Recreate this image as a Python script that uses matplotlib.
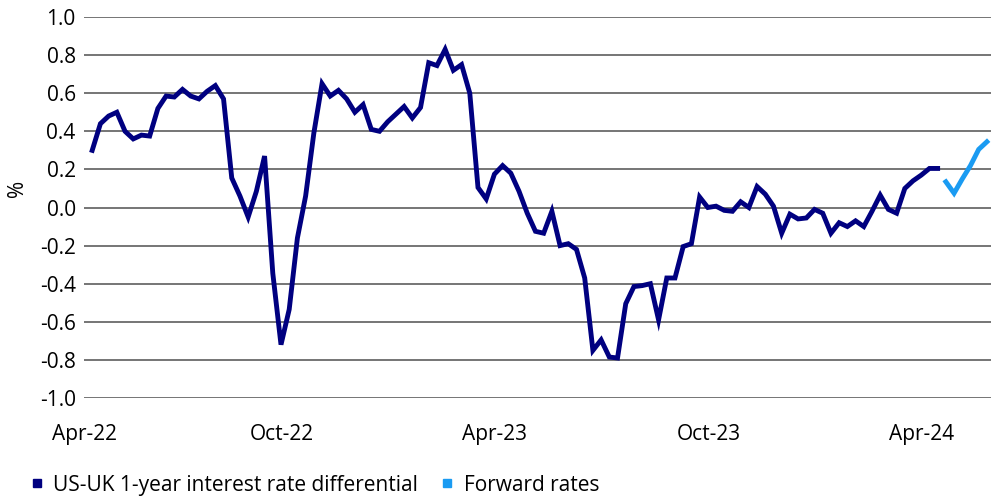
import matplotlib
matplotlib.use("Agg")
import matplotlib.pyplot as plt
from matplotlib.lines import Line2D
import numpy as np

plt.rcParams['font.family'] = ['Open Sans', 'DejaVu Sans']

# Weekly US-UK 1-year interest rate differential (%), Apr-22 .. Apr-24
differential = [
    0.30, 0.44, 0.48, 0.50, 0.40, 0.36, 0.38, 0.375, 0.52, 0.585,
    0.58, 0.62, 0.585, 0.57, 0.61, 0.64, 0.57, 0.155, 0.06, -0.05,
    0.085, 0.27, -0.345, -0.72, -0.535, -0.16, 0.06, 0.39, 0.65, 0.585,
    0.615, 0.57, 0.50, 0.54, 0.41, 0.40, 0.45, 0.49, 0.53, 0.47,
    0.525, 0.76, 0.745, 0.83, 0.72, 0.75, 0.60, 0.105, 0.045, 0.175,
    0.22, 0.18, 0.085, -0.03, -0.125, -0.135, -0.02, -0.20, -0.19, -0.22,
    -0.37, -0.75, -0.695, -0.785, -0.79, -0.505, -0.415, -0.41, -0.40, -0.59,
    -0.37, -0.37, -0.205, -0.19, 0.055, 0.0, 0.007, -0.015, -0.02, 0.03,
    0.0, 0.11, 0.07, 0.007, -0.135, -0.035, -0.06, -0.055, -0.01, -0.03,
    -0.135, -0.08, -0.10, -0.07, -0.10, -0.02, 0.065, -0.01, -0.03, 0.10,
    0.14, 0.17, 0.205, 0.205,
]
# Forward rates continuing weekly after the last observation
forward = [0.135, 0.075, 0.15, 0.22, 0.305, 0.345]

tick_labels = ["Apr-22", "Oct-22", "Apr-23", "Oct-23", "Apr-24"]
tick_pos = [-1.0, 23.1, 49.0, 75.1, 101.1]

y_ticks = [1.0, 0.8, 0.6, 0.4, 0.2, 0.0, -0.2, -0.4, -0.6, -0.8, -1.0]

navy = "#000080"
light = "#1A9BF2"
FS = 15

W, H = 1000, 497
fig = plt.figure(figsize=(W / 100, H / 100), dpi=100)
ax = fig.add_axes([84 / W, 1 - 398 / H, (991 - 84) / W, (398 - 17) / H])

x_diff = np.arange(len(differential))
x_fwd = np.arange(len(differential), len(differential) + len(forward))

ax.plot(x_diff, differential, color=navy, lw=3.5, solid_joinstyle='miter', zorder=3)
ax.plot(x_fwd, forward, color=light, lw=3.5, solid_joinstyle='miter', zorder=3)

ax.set_xlim(-0.5, len(differential) + len(forward) - 0.5)
ax.set_ylim(-1.0, 1.0)
ax.set_yticks(y_ticks)
ax.set_yticklabels([f"{v:.1f}" for v in y_ticks])
for v in y_ticks:
    ax.axhline(v, color="#505050", lw=1.1, zorder=1)

ax.set_xticks(tick_pos)
ax.set_xticklabels(tick_labels)
ax.tick_params(axis='both', length=0, labelsize=FS, colors='black')
ax.tick_params(axis='x', pad=19)
ax.tick_params(axis='y', pad=6)
for s in ax.spines.values():
    s.set_visible(False)

fig.text(18 / W, 1 - 188 / H, "%", rotation=90, ha='center', va='center', fontsize=FS)

handles = [
    Line2D([], [], ls='none', marker='s', markersize=6, color=navy,
           label="US-UK 1-year interest rate differential"),
    Line2D([], [], ls='none', marker='s', markersize=6, color=light,
           label="Forward rates"),
]
fig.legend(handles=handles, loc='lower left', bbox_to_anchor=(20 / W, -0.014),
           ncol=2, frameon=False, fontsize=FS, handlelength=0.8,
           handletextpad=0.4, columnspacing=1.0, borderaxespad=0)

fig.savefig("out.png", dpi=100)
